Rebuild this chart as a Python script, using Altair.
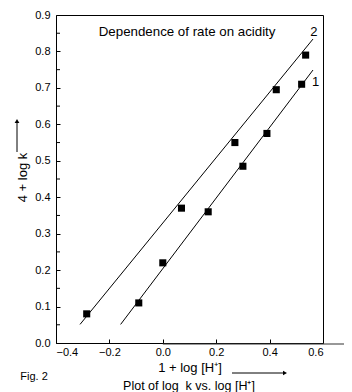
import altair as alt
import pandas as pd

# Series 1 (lower line) and series 2 (upper line) data points
x1 = [-0.09, 0.0, 0.17, 0.30, 0.39, 0.52]
y1 = [0.11, 0.22, 0.36, 0.485, 0.575, 0.71]
x2 = [-0.285, 0.07, 0.27, 0.425, 0.535]
y2 = [0.08, 0.37, 0.55, 0.695, 0.79]

# Fitted straight lines (end points)
fx1 = [-0.158, 0.5625]
fy1 = [0.051, 0.749]
fx2 = [-0.31, 0.5625]
fy2 = [0.051, 0.834]

x_ticks = [-0.4, -0.2, 0.0, 0.2, 0.4, 0.6]
y_ticks = [0.0, 0.1, 0.2, 0.3, 0.4, 0.5, 0.6, 0.7, 0.8, 0.9]
y_minor = [0.05, 0.15, 0.25, 0.35, 0.45, 0.55, 0.65, 0.75, 0.85]

line_labels = ["1", "2"]
label_x = [0.572, 0.566]
label_y = [0.716, 0.852]

FONT = "Liberation Sans"

pts = pd.DataFrame({"x": x1 + x2, "y": y1 + y2,
                    "s": ["1"] * len(x1) + ["2"] * len(x2)})
fit = pd.DataFrame({"x": fx1 + fx2, "y": fy1 + fy2,
                    "s": ["1", "1", "2", "2"]})
labs = pd.DataFrame({"x": label_x, "y": label_y, "t": line_labels})
title_df = pd.DataFrame({"x": [0.091], "y": [0.852],
                         "t": ["Dependence of rate on acidity"]})
ext_df = pd.DataFrame({"x": [0.0], "x2": [0.71]})
minor_df = pd.DataFrame({"y": y_minor})
one = pd.DataFrame({"a": [0]})

xscale = alt.Scale(domain=[-0.4, 0.6], nice=False, zero=False)
yscale = alt.Scale(domain=[0.0, 0.9], nice=False, zero=False)

xaxis = alt.Axis(values=x_ticks, format=".1f", title="1 + log [H⁺]",
                 domain=False, grid=False, offset=-4, tickSize=4,
                 tickColor="black", labelColor="black", labelFont=FONT,
                 labelFontSize=11, labelPadding=3, titleFont=FONT,
                 titleFontSize=13, titleFontWeight="normal",
                 titleColor="black", titlePadding=4)
yaxis = alt.Axis(values=y_ticks, format=".1f", title="4 + log k",
                 orient="left",
                 domain=False, grid=False, offset=-4, tickSize=4,
                 tickColor="black", labelColor="black", labelFont=FONT,
                 labelFontSize=11, labelPadding=6, labelOverlap=False,
                 titleFont=FONT,
                 titleFontSize=13, titleFontWeight="normal",
                 titleColor="black", titleX=-38, titleY=162,
                 titleAngle=-90, titleAlign="center",
                 titleBaseline="middle")

points = alt.Chart(pts).mark_point(shape="square", filled=True, size=50,
                                    color="black", opacity=1).encode(
    x=alt.X("x:Q", scale=xscale, axis=xaxis),
    y=alt.Y("y:Q", scale=yscale, axis=yaxis),
)

lines = alt.Chart(fit).mark_line(color="black", strokeWidth=1).encode(
    x=alt.X("x:Q", scale=xscale, axis=None),
    y=alt.Y("y:Q", scale=yscale, axis=None),
    detail="s:N",
)

minor = alt.Chart(minor_df).mark_tick(orient="horizontal", color="black",
                                      size=4, thickness=1,
                                      opacity=1).encode(
    y=alt.Y("y:Q", scale=yscale, axis=None),
    x=alt.value(2),
)

labels = alt.Chart(labs).mark_text(font=FONT, fontSize=13, color="black",
                                   align="center", baseline="middle").encode(
    x=alt.X("x:Q", scale=xscale, axis=None),
    y=alt.Y("y:Q", scale=yscale, axis=None),
    text="t:N",
)

title_txt = alt.Chart(title_df).mark_text(font=FONT, fontSize=13.3,
                                          color="black", align="center",
                                          baseline="middle").encode(
    x=alt.X("x:Q", scale=xscale, axis=None),
    y=alt.Y("y:Q", scale=yscale, axis=None),
    text="t:N",
)

ext = alt.Chart(ext_df).mark_rule(color="#333", strokeWidth=1.2).encode(
    x=alt.X("x:Q", scale=xscale, axis=None),
    x2="x2:Q",
    y=alt.value(329),
)

# decorative arrows and captions
yarrow = alt.Chart(one).mark_rule(color="black", strokeWidth=1).encode(
    x=alt.value(-39), y=alt.value(137), y2=alt.value(106))
yhead = alt.Chart(one).mark_point(shape="triangle-up", filled=True,
                                  size=22, color="black", opacity=1).encode(
    x=alt.value(-39), y=alt.value(106))
xarrow = alt.Chart(one).mark_rule(color="black", strokeWidth=1).encode(
    x=alt.value(176), x2=alt.value(229), y=alt.value(358))
xhead = alt.Chart(one).mark_point(shape="triangle-right", filled=True,
                                  size=22, color="black", opacity=1).encode(
    x=alt.value(229), y=alt.value(358))
fig = alt.Chart(one).mark_text(text="Fig. 2", font=FONT, fontSize=11,
                               color="black", align="center",
                               baseline="middle").encode(
    x=alt.value(-22), y=alt.value(362))
cap = alt.Chart(one).mark_text(text="Plot of log\u00a0 k vs. log [H⁺]",
                               font=FONT, fontSize=12.5, color="black",
                               align="center", baseline="middle").encode(
    x=alt.value(133), y=alt.value(371))

chart = alt.layer(points, lines, minor, labels, title_txt, ext, yarrow,
                  yhead, xarrow, xhead, fig, cap).resolve_axis(
    x="independent", y="independent"
).properties(
    width=267, height=328,
    autosize=alt.AutoSizeParams(type="none"),
    padding={"left": 48, "top": 7, "right": 21, "bottom": 49},
).configure_view(stroke="black", strokeWidth=1)

chart.save("out.html", embed_options={"renderer": "svg", "actions": False})
